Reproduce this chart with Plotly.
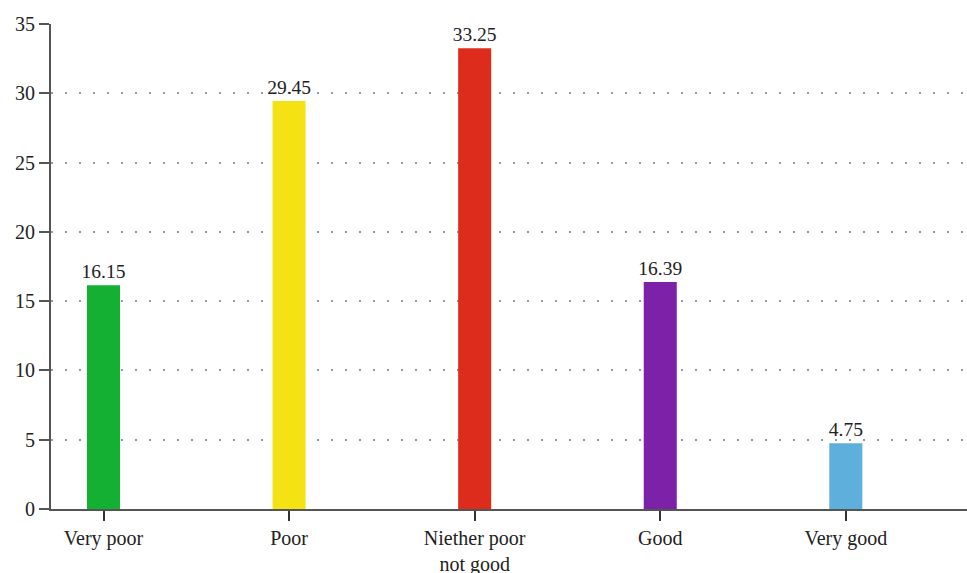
import plotly.graph_objects as go

categories = ["Very poor", "Poor", "Niether poor<br>not good", "Good", "Very good"]
values = [16.15, 29.45, 33.25, 16.39, 4.75]
labels = ["16.15", "29.45", "33.25", "16.39", "4.75"]
colors = ["#14b034", "#f4e214", "#dd2c1c", "#7c22a8", "#5eafdb"]
y_ticks = [0, 5, 10, 15, 20, 25, 30, 35]

font_family = "Liberation Serif, Times New Roman, serif"

fig = go.Figure(
    go.Bar(
        x=list(range(len(categories))),
        y=values,
        text=labels,
        textposition="outside",
        constraintext="none",
        textfont=dict(family=font_family, size=19.5, color="#222"),
        marker=dict(color=colors, line=dict(width=0)),
        width=0.178,
        cliponaxis=False,
    )
)

fig.update_layout(
    width=967,
    height=573,
    margin=dict(l=51, r=0, t=24, b=64),
    paper_bgcolor="white",
    plot_bgcolor="white",
    showlegend=False,
    font=dict(family=font_family, size=20, color="#222"),
)

fig.update_xaxes(
    range=[-0.283, 4.653],
    tickmode="array",
    tickvals=list(range(len(categories))),
    ticktext=categories,
    showline=True,
    linecolor="#555",
    linewidth=2,
    ticks="outside",
    ticklen=10,
    tickwidth=2,
    tickcolor="#333",
    showgrid=False,
    zeroline=False,
    automargin=False,
    tickfont=dict(family=font_family, size=20, color="#222"),
)

fig.update_yaxes(
    range=[0, 35],
    tickmode="array",
    tickvals=y_ticks,
    ticktext=[str(v) for v in y_ticks],
    showline=True,
    linecolor="#555",
    linewidth=2,
    ticks="outside",
    ticklen=10,
    tickwidth=2,
    tickcolor="#555",
    showgrid=True,
    gridcolor="#999",
    gridwidth=1.5,
    griddash="2px,12px",
    zeroline=False,
    automargin=False,
    tickfont=dict(family=font_family, size=20, color="#222"),
)

fig.write_html("out.html")
